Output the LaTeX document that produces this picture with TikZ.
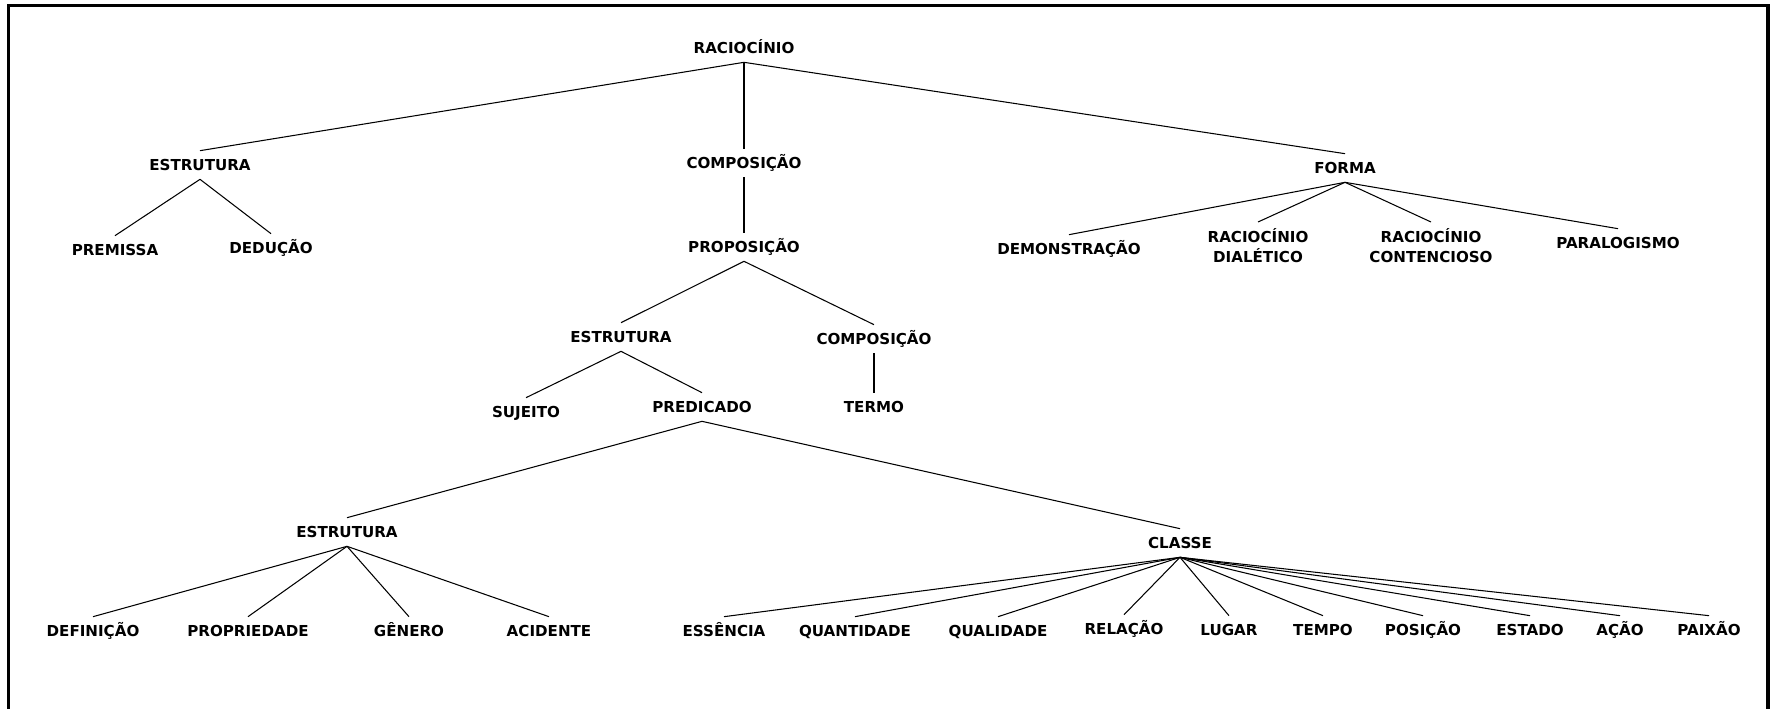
\documentclass[tikz,border=0pt]{standalone}
\usepackage{fontspec}
\setmainfont{DejaVu Sans}

\begin{document}
\begin{tikzpicture}[x=0.02cm, y=-0.02cm,
  termnode/.style={font=\fontsize{8.6pt}{11.4pt}\selectfont\bfseries, text height=6.3pt, text depth=0pt, inner xsep=2pt, inner ysep=4.8pt},
  twonode/.style={font=\fontsize{8.6pt}{11.4pt}\selectfont\bfseries, align=center, inner xsep=2pt, inner ysep=3.7pt, anchor=north},
  link/.style={line width=0.6pt, black}]
\useasboundingbox (0,0) rectangle (1773,709);
\draw[line width=2pt] (8.5,709) -- (8.5,5.5) -- (1768,5.5) -- (1768,709);

\node[termnode] at (744, 48) (r0) {RACIOCÍNIO};
\node[termnode] at (200, 165) (e1) {ESTRUTURA};
\draw[link] (r0.south) -- (e1.north);
\node[termnode] at (744, 163) (c1) {COMPOSIÇÃO};
\draw[link] (r0.south) -- (c1.north);
\node[termnode] at (1345, 168) (f1) {FORMA};
\draw[link] (r0.south) -- (f1.north);

\node[termnode] at (115, 250) (pr) {PREMISSA};
\draw[link] (e1.south) -- (pr.north);
\node[termnode] at (271, 248) (de) {DEDUÇÃO};
\draw[link] (e1.south) -- (de.north);
\node[termnode] at (744, 247) (p1) {PROPOSIÇÃO};
\draw[link] (c1.south) -- (p1.north);
\node[termnode] at (1069, 249) (dm) {DEMONSTRAÇÃO};
\draw[link] (f1.south) -- (dm.north);
\node[twonode] at (1258, 222) (rd) {RACIOCÍNIO\\DIALÉTICO};
\draw[link] (f1.south) -- (rd.north);
\node[twonode] at (1431, 222) (rc) {RACIOCÍNIO\\CONTENCIOSO};
\draw[link] (f1.south) -- (rc.north);
\node[termnode] at (1618, 243) (pa) {PARALOGISMO};
\draw[link] (f1.south) -- (pa.north);

\node[termnode] at (621, 337) (e2) {ESTRUTURA};
\draw[link] (p1.south) -- (e2.north);
\node[termnode] at (874, 339) (c2) {COMPOSIÇÃO};
\draw[link] (p1.south) -- (c2.north);
\node[termnode] at (526, 412) (su) {SUJEITO};
\draw[link] (e2.south) -- (su.north);
\node[termnode] at (702, 407) (pd) {PREDICADO};
\draw[link] (e2.south) -- (pd.north);
\node[termnode] at (874, 407) (te) {TERMO};
\draw[link] (c2.south) -- (te.north);

\node[termnode] at (347, 532) (e3) {ESTRUTURA};
\draw[link] (pd.south) -- (e3.north);
\node[termnode] at (1180, 543) (cl) {CLASSE};
\draw[link] (pd.south) -- (cl.north);

% estrutura do predicado
\node[termnode] at (93, 631) (df) {DEFINIÇÃO};
\draw[link] (e3.south) -- (df.north);
\node[termnode] at (248, 631) (pp) {PROPRIEDADE};
\draw[link] (e3.south) -- (pp.north);
\node[termnode] at (409, 631) (ge) {GÊNERO};
\draw[link] (e3.south) -- (ge.north);
\node[termnode] at (549, 631) (ac) {ACIDENTE};
\draw[link] (e3.south) -- (ac.north);

% classes
\node[termnode] at (724, 631) (k1) {ESSÊNCIA};
\draw[link] (cl.south) -- (k1.north);
\node[termnode] at (855, 631) (k2) {QUANTIDADE};
\draw[link] (cl.south) -- (k2.north);
\node[termnode] at (998, 631) (k3) {QUALIDADE};
\draw[link] (cl.south) -- (k3.north);
\node[termnode] at (1124, 629) (k4) {RELAÇÃO};
\draw[link] (cl.south) -- (k4.north);
\node[termnode] at (1229, 630) (k5) {LUGAR};
\draw[link] (cl.south) -- (k5.north);
\node[termnode] at (1323, 630) (k6) {TEMPO};
\draw[link] (cl.south) -- (k6.north);
\node[termnode] at (1423, 630) (k7) {POSIÇÃO};
\draw[link] (cl.south) -- (k7.north);
\node[termnode] at (1530, 630) (k8) {ESTADO};
\draw[link] (cl.south) -- (k8.north);
\node[termnode] at (1620, 630) (k9) {AÇÃO};
\draw[link] (cl.south) -- (k9.north);
\node[termnode] at (1709, 630) (k10) {PAIXÃO};
\draw[link] (cl.south) -- (k10.north);
\end{tikzpicture}
\end{document}
